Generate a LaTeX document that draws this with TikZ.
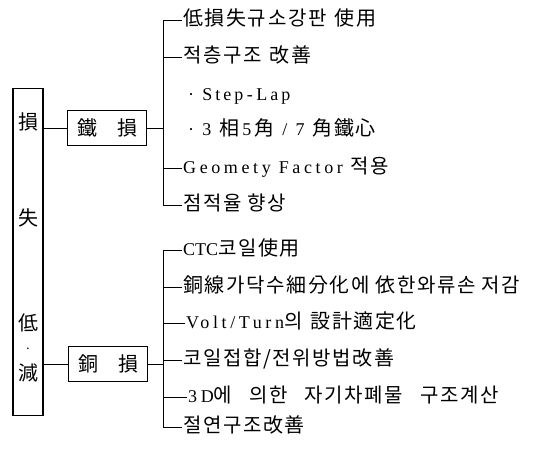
\documentclass[tikz,border=0pt]{standalone}
\usepackage{fontspec}
\setmainfont{Liberation Serif}
\newfontfamily\kr[LetterSpace=8]{Noto Sans CJK KR}
\newfontfamily\krbox{Noto Sans CJK KR}
\newfontfamily\lat[LetterSpace=20]{Liberation Serif}
\usetikzlibrary{positioning}

\begin{document}
\begin{tikzpicture}[x=1pt, y=-1pt, box/.style = {draw, line width=1.1pt, minimum width=79pt, minimum height=35pt, inner sep=0pt, font=\krbox\fontsize{20}{22}\selectfont}, item/.style = {anchor=west, inner sep=1pt, text height=15pt, text depth=5pt, font=\fontsize{18}{20}\selectfont}, glyph/.style = {font=\krbox\fontsize{20}{22}\selectfont}, line/.style = {thick}]
	\useasboundingbox (0,0) rectangle (534,464);
	% left column
	\node[draw, line width=1.1pt, minimum width=30pt, minimum height=327pt] (root) at (28,252) {};
	\node[glyph] (r1) at (28,122) {損};
	\node[glyph] (r2) at (28,218) {失};
	\node[glyph] (r3) at (28,323) {低};
	\node[font=\fontsize{14}{14}\selectfont] (r4) at (28,351) {·};
	\node[glyph] (r5) at (28,373) {減};
	% middle boxes
	\node[box] (iron) at (107,128) {鐵\hspace{20pt}損};
	\node[box] (cu) at (108,364) {銅\hspace{20pt}損};
	% iron loss items
	\node[item] (i1) at (182,20) {\kr\fontsize{20}{22}\selectfont 低損失규소강판\hspace{8pt}使用};
	\node[item] (i2) at (182,57) {\kr\fontsize{20}{22}\selectfont 적층구조\hspace{8pt}改善};
	\node[item] (i3) at (187,95) {\lat · S\,t\,e\,p-L\,a\,p};
	\node[item] (i4) at (187,130) {\lat · 3 {\kr\fontsize{20}{22}\selectfont 相}\,5\,{\kr\fontsize{20}{22}\selectfont 角} / 7 {\kr\fontsize{20}{22}\selectfont 角鐵心}};
	\node[item] (i5) at (182,168) {\lat Geomety Factor {\kr\fontsize{20}{22}\selectfont 적용}};
	\node[item] (i6) at (182,205) {\kr\fontsize{20}{22}\selectfont 점적율 향상};
	% copper loss items
	\node[item] (j1) at (182,250) {CTC{\kr\fontsize{20}{22}\selectfont 코일使用}};
	\node[item] (j2) at (182,287) {\kr\fontsize{20}{22}\selectfont 銅線가닥수細分化에 依한와류손 저감};
	\node[item] (j3) at (185,323) {\lat Volt/Turn{\kr\fontsize{20}{22}\selectfont 의\hspace{8pt}設計適定化}};
	\node[item] (j4) at (182,360) {\kr\fontsize{20}{22}\selectfont 코일접합/전위방법改善};
	\node[item] (j5) at (187,397) {\lat 3D{\kr\fontsize{20}{22}\selectfont 에\hspace{17pt}의한\hspace{17pt}자기차폐물\hspace{17pt}구조계산}};
	\node[item] (j6) at (182,427) {\kr\fontsize{20}{22}\selectfont 절연구조改善};
	\coordinate (a) at (163,128);
	\coordinate (b) at (163,364);
	\draw[line] (root.east |- iron) -- (iron.west);
	\draw[line] (root.east |- cu) -- (cu.west);
	\draw[line] (iron.east) -- (a);
	\draw[line] (cu.east) -- (b);
	\draw[line] (i1.west) -- (i1.west -| a) -- (i6.west -| a) -- (i6.west);
	\draw[line] (i2.west) -- (i2.west -| a);
	\draw[line] (i5.west) -- (i5.west -| a);
	\draw[line] (j1.west) -- (j1.west -| b) -- (j6.west -| b) -- (j6.west);
	\draw[line] (j2.west) -- (j2.west -| b);
	\draw[line] (j3.west) -- (j3.west -| b);
	\draw[line] (j4.west) -- (j4.west -| b);
	\draw[line] (j5.west) -- (j5.west -| b);
\end{tikzpicture}
\end{document}
